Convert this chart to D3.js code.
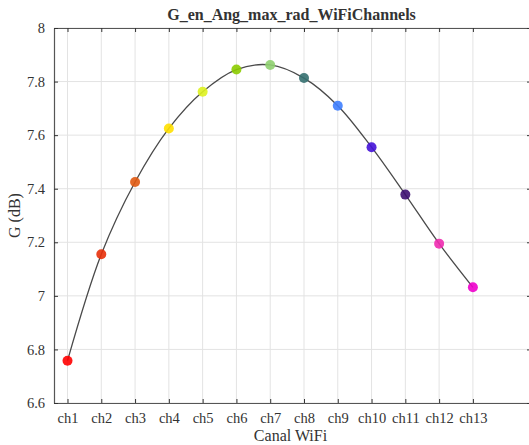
<!DOCTYPE html>
<html>
<head>
<meta charset="utf-8">
<script src="https://cdn.jsdelivr.net/npm/d3@7"></script>
<style>
  html, body { margin: 0; padding: 0; background: #fff; overflow: hidden; }
  svg { display: block; }
  text { font-family: "Liberation Serif", "Times New Roman", serif; fill: #333; }
</style>
</head>
<body>
<svg id="chart" width="529" height="445"></svg>
<script>
// Gain at max radiation angle per WiFi channel
const channels = ["ch1","ch2","ch3","ch4","ch5","ch6","ch7","ch8","ch9","ch10","ch11","ch12","ch13"];
const gainDb = [6.758, 7.155, 7.425, 7.625, 7.762, 7.845, 7.862, 7.813, 7.710, 7.555, 7.378, 7.195, 7.032];
const pointColors = ["#ff0000","#e8300a","#e05a12","#ffe000","#def220","#8ccc00","#8fd070","#357070","#3f80ff","#4412d8","#3e0f72","#f02bb0","#ee00cc"];
const yTicks = [6.6, 6.8, 7, 7.2, 7.4, 7.6, 7.8, 8];
const titleText = "G_en_Ang_max_rad_WiFiChannels";
const xLabel = "Canal WiFi";
const yLabel = "G (dB)";

const svg = d3.select("#chart");
const m = { left: 54, top: 28, right: 531, bottom: 403 };

const x = d3.scaleLinear().domain([0.6, 14.72]).range([m.left, m.right]);
const y = d3.scaleLinear().domain([6.6, 8]).range([m.bottom, m.top]);
const idx = channels.map((_, i) => i + 1);

// grid
const grid = svg.append("g");
grid.selectAll("line.vx").data(idx).join("line")
  .attr("x1", d => x(d)).attr("x2", d => x(d))
  .attr("y1", m.top).attr("y2", m.bottom)
  .attr("stroke", "#e3e3e3").attr("stroke-width", 1);
grid.selectAll("line.hy").data(yTicks).join("line")
  .attr("x1", m.left).attr("x2", m.right)
  .attr("y1", d => y(d)).attr("y2", d => y(d))
  .attr("stroke", "#e3e3e3").attr("stroke-width", 1);

// axes
const xAxisB = d3.axisBottom(x).tickValues(idx).tickFormat((d, i) => channels[i]).tickSizeInner(-4).tickSizeOuter(0).tickPadding(10);
const xAxisT = d3.axisTop(x).tickValues(idx).tickFormat("").tickSizeInner(-4).tickSizeOuter(0);
const yAxisL = d3.axisLeft(y).tickValues(yTicks).tickFormat(d3.format("~g")).tickSizeInner(-4).tickSizeOuter(0).tickPadding(9);
const yAxisR = d3.axisRight(y).tickValues(yTicks).tickFormat("").tickSizeInner(-4).tickSizeOuter(0);

function style(g) {
  g.select(".domain").attr("stroke", "#555").attr("stroke-width", 1.2);
  g.selectAll(".tick line").attr("stroke", "#333").attr("stroke-width", 1);
  g.selectAll(".tick text").attr("font-size", 14.5).attr("fill", "#3a3a3a")
    .attr("font-family", "'Liberation Serif', 'Times New Roman', serif");
}
svg.append("g").attr("transform", `translate(0,${m.bottom})`).call(xAxisB).call(style);
svg.append("g").attr("transform", `translate(0,${m.top})`).call(xAxisT).call(style);
svg.append("g").attr("transform", `translate(${m.left},0)`).call(yAxisL).call(style);
svg.append("g").attr("transform", `translate(${m.right},0)`).call(yAxisR).call(style);

// curve
const line = d3.line().x((d, i) => x(i + 1)).y(d => y(d)).curve(d3.curveCatmullRom.alpha(0.5));
svg.append("path").datum(gainDb)
  .attr("d", line).attr("fill", "none")
  .attr("stroke", "#4a4a4a").attr("stroke-width", 1.3);

// markers
svg.append("g").selectAll("circle").data(gainDb).join("circle")
  .attr("cx", (d, i) => x(i + 1)).attr("cy", d => y(d)).attr("r", 5)
  .attr("fill", (d, i) => pointColors[i]).attr("fill-opacity", 0.9);

// labels
svg.append("text").attr("x", (m.left + m.right) / 2 - 1).attr("y", 20)
  .attr("text-anchor", "middle").attr("font-size", 16).attr("font-weight", "bold")
  .attr("fill", "#222").text(titleText);
svg.append("text").attr("x", (m.left + m.right) / 2 - 2).attr("y", 441)
  .attr("text-anchor", "middle").attr("font-size", 16).attr("fill", "#3a3a3a").text(xLabel);
svg.append("text").attr("transform", `translate(20,${(m.top + m.bottom) / 2}) rotate(-90)`)
  .attr("text-anchor", "middle").attr("font-size", 16).attr("fill", "#3a3a3a").text(yLabel);
</script>
</body>
</html>
